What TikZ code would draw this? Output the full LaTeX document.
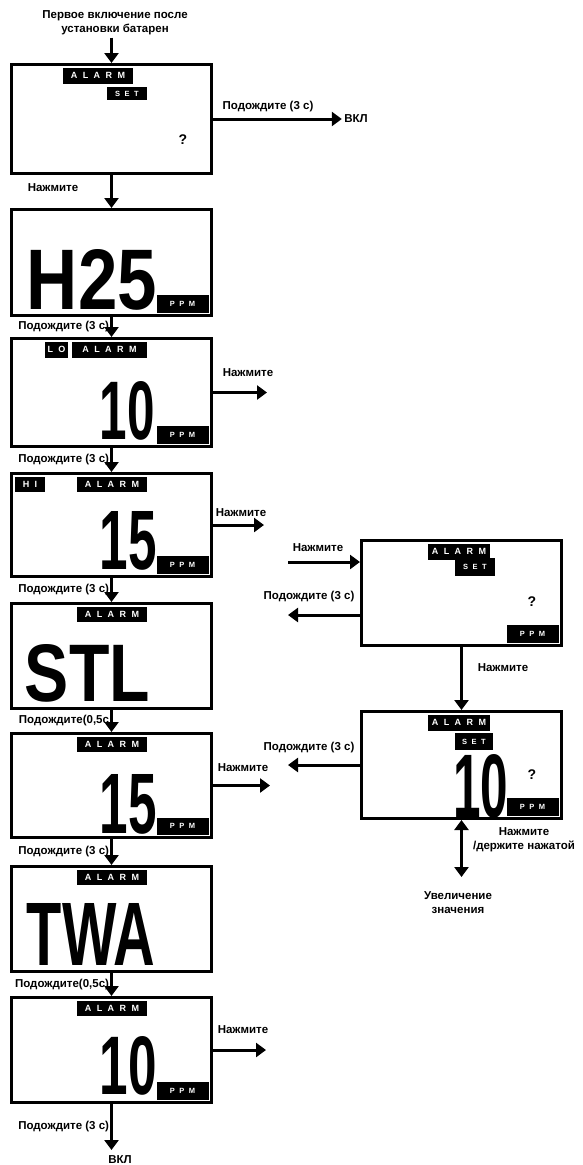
\documentclass[tikz,border=0pt]{standalone}
\usepackage{fontspec}
\usepackage{graphicx}
\setmainfont{Liberation Sans}
\newfontfamily\tagfont[LetterSpace=60]{Liberation Sans}
\usetikzlibrary{arrows.meta}
\newcommand{\lcdnum}[3]{\resizebox{#1pt}{#2pt}{\bfseries #3}}

\begin{document}
\begin{tikzpicture}[x=1pt,y=-1pt,->,>={Triangle[width=14pt,length=10pt]},line width=3pt]
\tikzstyle{screen}=[draw,line width=3pt,minimum width=200pt,inner sep=0pt]
\tikzstyle{tag}=[fill=black,text=white,inner sep=0pt,font=\tagfont\bfseries\fontsize{9}{9}\selectfont]
\tikzstyle{small tag}=[tag,font=\tagfont\bfseries\fontsize{7.5}{8}\selectfont]
\tikzstyle{lbl}=[font=\bfseries\fontsize{11.5}{14}\selectfont,inner sep=1pt,align=center]
\tikzstyle{digits}=[inner sep=0pt]
\tikzstyle{qmark}=[font=\bfseries\fontsize{14}{14}\selectfont,inner sep=0pt]

\useasboundingbox (0,0) rectangle (582,1165);

\node[lbl] (start) at (115,23) {Первое включение после\\установки батарен};

\node[screen,minimum height=109pt] (b1) at (111.5,119) {};
\node[screen,minimum height=106pt] (b2) at (111.5,262.5) {};
\node[screen,minimum height=108pt] (b3) at (111.5,392.5) {};
\node[screen,minimum height=103pt] (b4) at (111.5,525) {};
\node[screen,minimum height=105pt] (b5) at (111.5,656) {};
\node[screen,minimum height=104pt] (b6) at (111.5,785.5) {};
\node[screen,minimum height=105pt] (b7) at (111.5,919) {};
\node[screen,minimum height=105pt] (b8) at (111.5,1050) {};
\node[screen,minimum height=105pt] (r1) at (461.5,593) {};
\node[screen,minimum height=107pt] (r2) at (461.5,765) {};

% display contents
\node[tag,minimum width=70pt,minimum height=16pt,anchor=north] (t1) at (98,66) {ALARM};
\node[small tag,minimum width=40pt,minimum height=13pt] (s1) at (127,93.5) {SET};
\node[qmark] (q1m) at (183,140) {?};

\node[digits] (d2) at (92,280) {\lcdnum{130}{60}{H25}};
\node[small tag,minimum width=52pt,minimum height=18pt,anchor=south east] (p2) at (210,314) {PPM};

\node[tag,minimum width=23pt,minimum height=16pt,anchor=north] (lo3) at (56.5,340) {LO};
\node[tag,minimum width=75pt,minimum height=16pt,anchor=north] (t3) at (109.5,340) {ALARM};
\node[digits] (d3) at (127.5,411) {\lcdnum{55}{58}{10}};
\node[small tag,minimum width=52pt,minimum height=18pt,anchor=south east] (p3t) at (210,445) {PPM};

\node[tag,minimum width=30pt,minimum height=15pt,anchor=north] (hi4) at (30,475) {HI};
\node[tag,minimum width=70pt,minimum height=15pt,anchor=north] (t4) at (112,475) {ALARM};
\node[digits] (d4) at (128.5,541) {\lcdnum{57}{58}{15}};
\node[small tag,minimum width=52pt,minimum height=18pt,anchor=south east] (p4t) at (210,575) {PPM};

\node[tag,minimum width=70pt,minimum height=15pt,anchor=north] (t5) at (112,605) {ALARM};
\node[digits] (d5) at (87.5,673.5) {\lcdnum{125}{57}{STL}};

\node[tag,minimum width=70pt,minimum height=15pt,anchor=north] (t6) at (112,735) {ALARM};
\node[digits] (d6) at (128.5,804.5) {\lcdnum{57}{59}{15}};
\node[small tag,minimum width=52pt,minimum height=17pt,anchor=south east] (p6t) at (210,836) {PPM};

\node[tag,minimum width=70pt,minimum height=15pt,anchor=north] (t7) at (112,868) {ALARM};
\node[digits] (d7) at (91,934) {\lcdnum{128}{62}{TWA}};

\node[tag,minimum width=70pt,minimum height=15pt,anchor=north] (t8) at (112,999) {ALARM};
\node[digits] (d8) at (128.5,1066) {\lcdnum{57}{58}{10}};
\node[small tag,minimum width=52pt,minimum height=18pt,anchor=south east] (p8t) at (210,1101) {PPM};

\node[tag,minimum width=62pt,minimum height=16pt,anchor=north] (tr1) at (459,542) {ALARM};
\node[small tag,minimum width=40pt,minimum height=18pt] (sr1) at (475,567) {SET};
\node[qmark] (qr1) at (532,602) {?};
\node[small tag,minimum width=52pt,minimum height=18pt,anchor=south east] (pr1) at (560,644) {PPM};

\node[tag,minimum width=62pt,minimum height=16pt,anchor=north] (tr2) at (459,713) {ALARM};
\node[small tag,minimum width=38pt,minimum height=17pt] (sr2) at (474,741.5) {SET};
\node[digits] (dr2) at (480.5,786) {\lcdnum{55}{63}{10}};
\node[qmark] (qr2) at (532,775) {?};
\node[small tag,minimum width=52pt,minimum height=18pt,anchor=south east] (pr2) at (560,817) {PPM};

% labels
\node[lbl] (w1) at (268,107) {Подождите (3 с)};
\node[lbl] (on1) at (356,119) {ВКЛ};
\node[lbl] (n1) at (53,188) {Нажмите};
\node[lbl] (n3) at (248,373) {Нажмите};
\node[lbl] (n4) at (241,513) {Нажмите};
\node[lbl] (n6) at (243,768) {Нажмите};
\node[lbl] (n8) at (243,1030) {Нажмите};
\node[lbl] (rn1) at (318,548) {Нажмите};
\node[lbl] (rw1) at (309,597) {Подождите (3 с)};
\node[lbl] (rn2) at (503,668) {Нажмите};
\node[lbl] (rw2) at (309,748) {Подождите (3 с)};
\node[lbl] (rh) at (524,840) {Нажмите\\/держите нажатой};
\node[lbl] (inc) at (458,903) {Увеличение\\значения};
\node[lbl] (on2) at (120,1160) {ВКЛ};

\coordinate (p3) at (267,392.5);
\coordinate (p4) at (264,525);
\coordinate (p6) at (270,785.5);
\coordinate (p8) at (266,1050);
\coordinate (c1) at (288,562);
\coordinate (c2) at (288,615);
\coordinate (c3) at (288,765);
\coordinate (c4) at (461.5,877);
\coordinate (c5) at (111.5,1150);

\path
(start.south -| b1.north) edge (b1.north)
(b1.east) edge (b1.east -| on1.west)
(b1) edge (b2)
(b2) edge node[lbl,left] (w2) {Подождите (3 с)} (b3)
(b3) edge node[lbl,left] (w3) {Подождите (3 с)} (b4)
(b4) edge node[lbl,left] (w4) {Подождите (3 с)} (b5)
(b5) edge node[lbl,left] (w5) {Подождите(0,5с} (b6)
(b6) edge node[lbl,left] (w6) {Подождите (3 с)} (b7)
(b7) edge node[lbl,left] (w7) {Подождите(0,5с)} (b8)
(b8) edge node[lbl,left] (w8) {Подождите (3 с)} (c5)
(b3.east) edge (p3)
(b4.east) edge (p4)
(b6.east) edge (p6)
(b8.east) edge (p8)
(c1) edge (c1 -| r1.west)
(c2 -| r1.west) edge (c2)
(r1) edge (r2)
(r2.west) edge (c3)
(r2.south) edge[<->] (c4)
;
\end{tikzpicture}
\end{document}
